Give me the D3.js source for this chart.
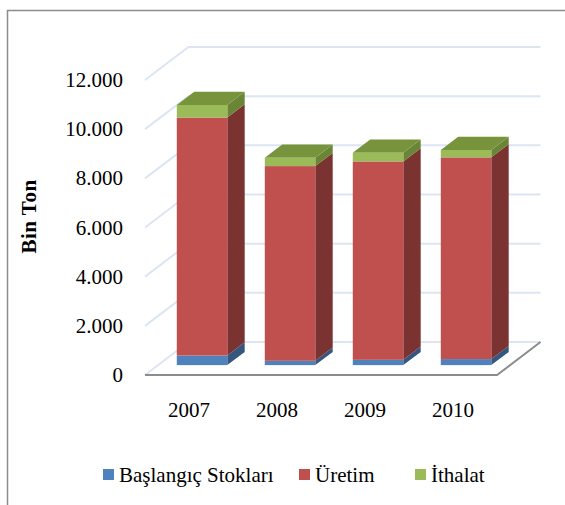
<!doctype html>
<html lang="tr">
<head>
<meta charset="utf-8">
<title>Bin Ton</title>
<style>
  html, body { margin: 0; padding: 0; background: #fff; }
  svg { display: block; }
  text { font-family: "Liberation Serif", serif; fill: #000; }
</style>
</head>
<body>
<script src="https://d3js.org/d3.v7.min.js"></script>
<script>
var years = ["2007", "2008", "2009", "2010"];
var stokValues = [390, 175, 215, 245];
var uretimValues = [9680, 7920, 8070, 8205];
var ithalatValues = [510, 340, 350, 300];
var seriesNames = ["Başlangıç Stokları", "Üretim", "İthalat"];
var yTicks = [0, 2000, 4000, 6000, 8000, 10000, 12000];

var seriesValues = [stokValues, uretimValues, ithalatValues];
var front = ["#4f81bd", "#c0504d", "#9bbb59"];
var side = ["#34567f", "#7b3331", "#6b8537"];
var topFace = ["#3f6797", "#9a403e", "#77933c"];

var width = 565, height = 505;
var svg = d3.select("body").append("svg")
    .attr("width", width)
    .attr("height", height);

// frame of the picture, no right or bottom edge in the crop
svg.append("path")
    .attr("d", "M7.5,505V10.5H565")
    .attr("fill", "none")
    .attr("stroke", "#8c8c8c")
    .attr("stroke-width", 1.5);

// 3d box: front floor edge runs 145..497 at y=375, depth goes up and right
var depthX = 43.5, depthY = -33;
var x = d3.scaleBand().domain(years).range([145, 497]).paddingInner(0.426).paddingOuter(0.213);
var y = d3.scaleLinear().domain([0, 12000]).range([375, 80]);

function proj(px, py, d) {
    return [px + depthX * d, py + depthY * d];
}
var line = d3.line();

var grid = svg.append("g").attr("fill", "none").attr("stroke", "#dce6f2").attr("stroke-width", 2);
yTicks.forEach(function(t) {
    grid.append("path").attr("d", line([
        proj(145, y(t), 0), proj(145, y(t), 1), proj(497, y(t), 1)
    ]));
});

// bars, 0.3..0.7 of the depth
var d0 = 0.3, d1 = 0.7;
years.forEach(function(year, i) {
    var base = 0;
    seriesValues.forEach(function(values, s) {
        var x0 = x(year), x1 = x0 + x.bandwidth();
        var yLow = y(base), yHigh = y(base + values[i]);
        var g = svg.append("g");
        g.append("path").attr("fill", side[s]).attr("d", line([
            proj(x1, yLow, d0), proj(x1, yLow, d1), proj(x1, yHigh, d1), proj(x1, yHigh, d0)
        ]) + "Z");
        if (s === seriesValues.length - 1) {
            g.append("path").attr("fill", topFace[s]).attr("d", line([
                proj(x0, yHigh, d0), proj(x1, yHigh, d0), proj(x1, yHigh, d1), proj(x0, yHigh, d1)
            ]) + "Z");
        }
        var p = proj(x0, yHigh, d0);
        g.append("rect")
            .attr("x", p[0]).attr("y", p[1])
            .attr("width", x.bandwidth())
            .attr("height", yLow - yHigh)
            .attr("fill", front[s]);
        base += values[i];
    });
});

// floor edges in front
svg.append("path")
    .attr("fill", "none")
    .attr("stroke", "#8c8c8c")
    .attr("stroke-width", 2)
    .attr("d", line([proj(145, y(0), 0), proj(497, y(0), 0), proj(497, y(0), 1)]));

// y axis labels
var fmt = function(v) { return d3.format(",")(v).replace(/,/g, "."); };
svg.append("g").selectAll("text")
    .data(yTicks)
    .enter().append("text")
    .attr("x", 123)
    .attr("y", function(d) { return y(d) + 7; })
    .attr("text-anchor", "end")
    .style("font-size", "21px")
    .text(fmt);

svg.append("text")
    .attr("transform", "translate(36,216.5) rotate(-90)")
    .attr("text-anchor", "middle")
    .style("font-size", "21px")
    .style("font-weight", "bold")
    .style("letter-spacing", "0.5px")
    .text("Bin Ton");

// category labels
svg.append("g").selectAll("text")
    .data(years)
    .enter().append("text")
    .attr("x", function(d) { return x(d) + x.bandwidth() / 2; })
    .attr("y", 417)
    .attr("text-anchor", "middle")
    .style("font-size", "21px")
    .text(function(d) { return d; });

// legend
var legendX = [103, 299, 415];
var legend = svg.append("g").selectAll("g")
    .data(seriesNames)
    .enter().append("g")
    .attr("transform", function(d, i) { return "translate(" + legendX[i] + ",469)"; });
legend.append("rect")
    .attr("width", 11).attr("height", 11)
    .attr("fill", function(d, i) { return front[i]; });
legend.append("text")
    .attr("x", 16).attr("y", 13)
    .style("font-size", "21px")
    .text(function(d) { return d; });
</script>
</body>
</html>
